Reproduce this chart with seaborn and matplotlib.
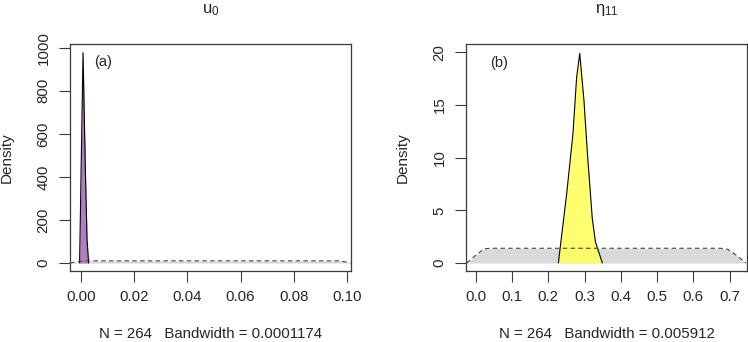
import numpy as np
import pandas as pd
import matplotlib
matplotlib.use("Agg")
import matplotlib.pyplot as plt
import seaborn as sns

# posterior density of u0
u0_x = [-0.0005, 0.0000, 0.0004, 0.0008, 0.0012, 0.0017, 0.0023, 0.0029]
u0_y = [0, 380, 680, 977, 720, 420, 107, 0]
# prior density of u0 (dashed, grey)
u0_prior_x = [-0.0040, -0.0010, 0.0015, 0.0970, 0.0990, 0.1013]
u0_prior_y = [0, 7, 10, 10, 6, 0]

# posterior density of eta11
eta_x = [0.2277, 0.2507, 0.2680, 0.2780, 0.2866, 0.2984, 0.3076, 0.3213, 0.3300, 0.3490]
eta_y = [0, 6.6, 12.3, 17.6, 19.9, 15.4, 10.5, 4.2, 2.0, 0]
# prior density of eta11
eta_prior_x = [-0.025, 0.000, 0.023, 0.040, 0.675, 0.695, 0.720, 0.745]
eta_prior_y = [0, 0.75, 1.35, 1.40, 1.40, 1.30, 0.70, 0]

u0_xticks = [0.00, 0.02, 0.04, 0.06, 0.08, 0.10]
u0_yticks = [0, 200, 400, 600, 800, 1000]
eta_xticks = [0.0, 0.1, 0.2, 0.3, 0.4, 0.5, 0.6, 0.7]
eta_yticks = [0, 5, 10, 15, 20]

sns.set_theme(style="white")
plt.rcParams["font.family"] = ["Liberation Sans", "DejaVu Sans"]
plt.rcParams["mathtext.fontset"] = "custom"
plt.rcParams["mathtext.rm"] = "Liberation Sans"
plt.rcParams["mathtext.it"] = "Liberation Sans:italic"

EDGE = "#3a3a3a"


def density_panel(ax, px, py, prx, pry, fill, title, tag, tag_xy, xlab,
                  xticks, xfmt, yticks, xlim, ylim):
    # prior fill first, posterior on top, dashed prior outline last
    ax.fill_between(prx, pry, color="#d9d9d9", lw=0, zorder=1)
    ax.fill_between(px, py, color=fill, alpha=0.88, lw=0, zorder=2)
    sns.lineplot(x=px, y=py, ax=ax, color="black", lw=0.8, sort=False, zorder=3)
    cx = list(prx) + [prx[0]]
    cy = list(pry) + [pry[0]]
    sns.lineplot(x=cx, y=cy, ax=ax, color="#444444", lw=0.8, ls=(0, (4, 3)),
                 sort=False, zorder=5)

    ax.set_xlim(*xlim)
    ax.set_ylim(*ylim)
    ax.set_xticks(xticks)
    ax.set_xticklabels([xfmt.format(t) for t in xticks])
    ax.set_yticks(yticks)
    ax.set_yticklabels([str(t) for t in yticks], rotation=90, va="center")
    ax.tick_params(axis="both", direction="out", length=8, width=0.8,
                   color=EDGE, labelsize=10.8, pad=6, left=True, bottom=True)
    for s in ax.spines.values():
        s.set_color(EDGE)
        s.set_linewidth(0.9)

    ax.set_ylabel("Density", fontsize=11)
    ax.yaxis.set_label_coords(-0.2, 0.5)
    ax.set_xlabel(xlab, fontsize=10.8)
    ax.xaxis.set_label_coords(0.5, -0.245)
    ax.text(0.5, 1.15, title, transform=ax.transAxes, ha="center",
            va="center", fontsize=12)
    ax.text(tag_xy[0], tag_xy[1], tag, fontsize=10.5, ha="center", va="center")


fig = plt.figure(figsize=(7.48, 3.42), dpi=100)
ax1 = fig.add_axes([0.0936, 0.2076, 0.3757, 0.6637])
ax2 = fig.add_axes([0.6230, 0.2076, 0.3757, 0.6637])

density_panel(ax1, u0_x, u0_y, u0_prior_x, u0_prior_y, "#a86cbb",
              r"$\mathrm{u}_{0}$", "(a)", (0.0083, 934),
              "N = 264   Bandwidth = 0.0001174",
              u0_xticks, "{:.2f}", u0_yticks, (-0.0041, 0.1015), (-37, 1017))
density_panel(ax2, eta_x, eta_y, eta_prior_x, eta_prior_y, "#ffff5c",
              r"$\mathrm{η}_{11}$", "(b)", (0.064, 19.0),
              "N = 264   Bandwidth = 0.005912",
              eta_xticks, "{:.1f}", eta_yticks, (-0.027, 0.748), (-0.76, 20.8))

plt.savefig("out.png", dpi=100)
plt.close()
